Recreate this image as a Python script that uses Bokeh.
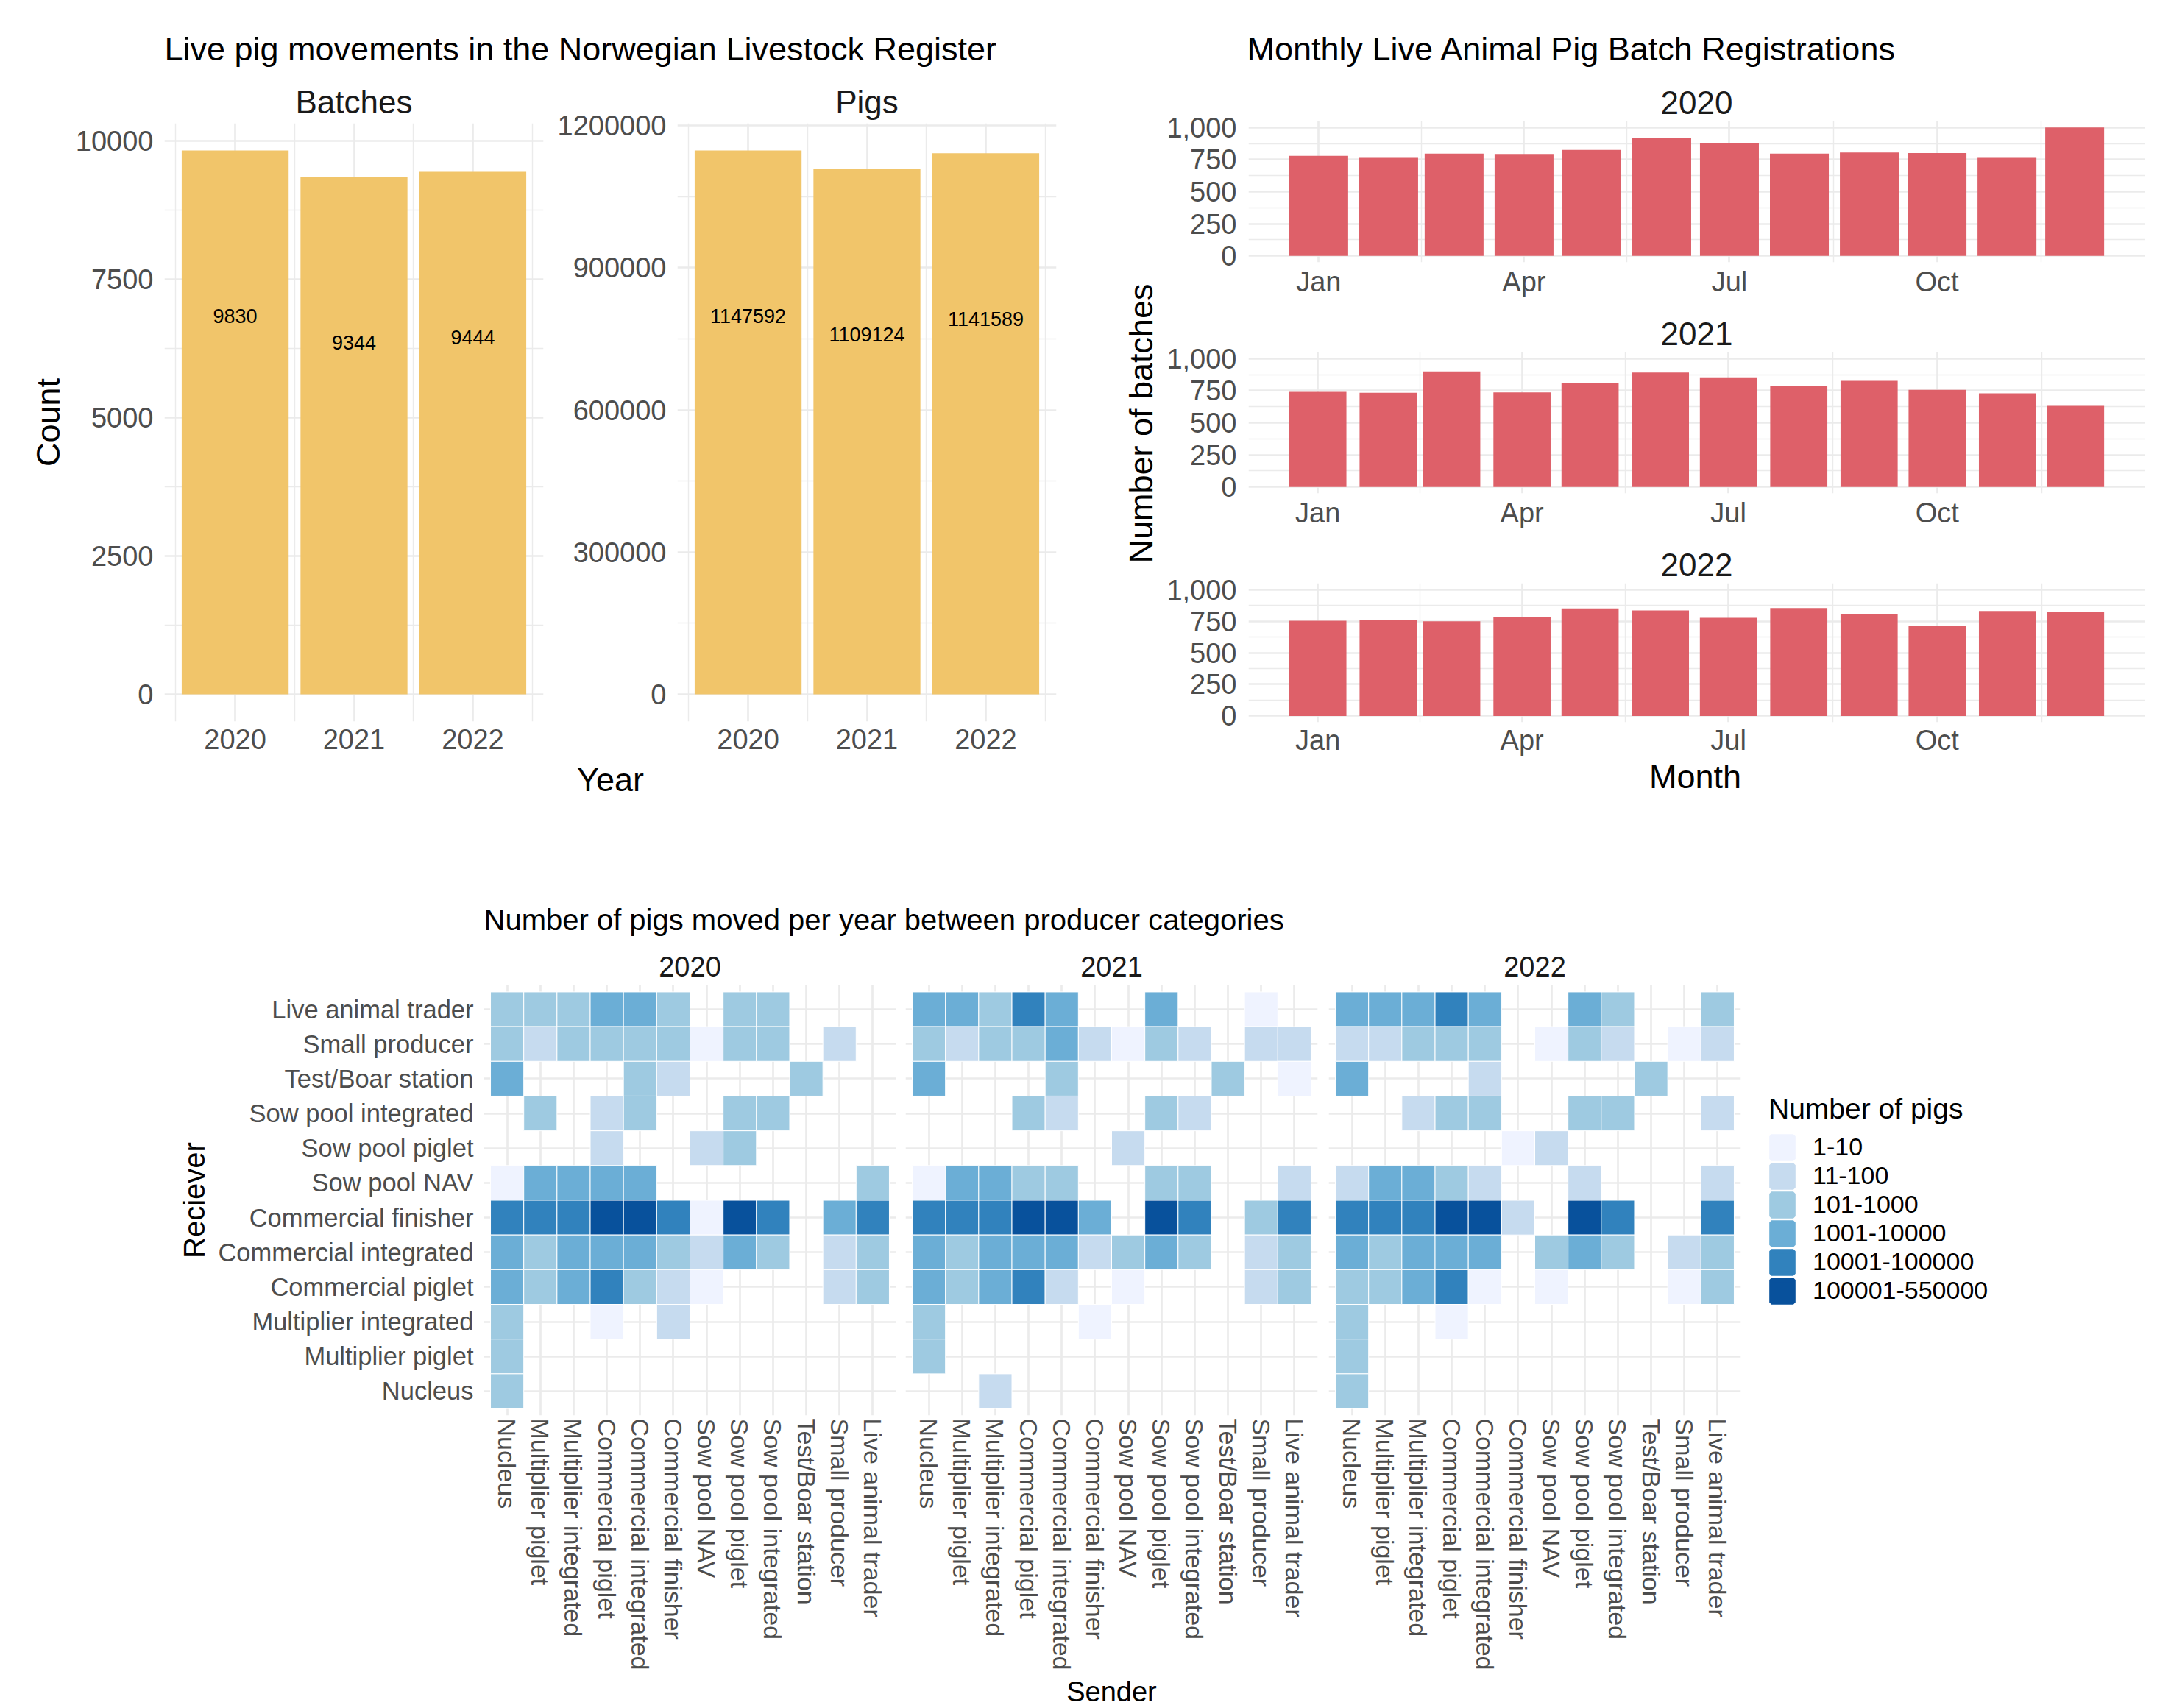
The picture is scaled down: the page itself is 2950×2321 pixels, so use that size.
import numpy as np
import pandas as pd
from bokeh.plotting import figure
from bokeh.layouts import row, column
from bokeh.models import (ColumnDataSource, Range1d, FactorRange, FixedTicker, LabelSet,
                          NumeralTickFormatter, BasicTickFormatter, DatetimeTickFormatter,
                          Legend, LegendItem)
from bokeh.transform import factor_cmap
from bokeh.core.properties import value
from bokeh.embed import file_html
from bokeh.resources import INLINE

# ---------------- data ----------------
YEARS = [2020, 2021, 2022]
BATCHES = [9830, 9344, 9444]
PIGS = [1147592, 1109124, 1141589]

MONTHLY_2020 = [780, 764, 797, 793, 825, 915, 878, 797, 805, 801, 764, 1000]
MONTHLY_2021 = [741, 733, 899, 737, 806, 891, 854, 789, 826, 757, 729, 632]
MONTHLY_2022 = [753, 761, 749, 785, 850, 834, 777, 854, 802, 709, 830, 826]

SENDERS = ["Nucleus", "Multiplier piglet", "Multiplier integrated", "Commercial piglet",
           "Commercial integrated", "Commercial finisher", "Sow pool NAV", "Sow pool piglet",
           "Sow pool integrated", "Test/Boar station", "Small producer", "Live animal trader"]
RECEIVERS = ["Live animal trader", "Small producer", "Test/Boar station", "Sow pool integrated",
             "Sow pool piglet", "Sow pool NAV", "Commercial finisher", "Commercial integrated",
             "Commercial piglet", "Multiplier integrated", "Multiplier piglet", "Nucleus"]
LEVELS = ["1-10", "11-100", "101-1000", "1001-10000", "10001-100000", "100001-550000"]

# class index (1..6, 0 = no movement); rows = RECEIVERS, columns = SENDERS
HEAT_2020 = [
    [3, 3, 3, 4, 4, 3, 0, 3, 3, 0, 0, 0],
    [3, 2, 3, 3, 3, 3, 1, 3, 3, 0, 2, 0],
    [4, 0, 0, 0, 3, 2, 0, 0, 0, 3, 0, 0],
    [0, 3, 0, 2, 3, 0, 0, 3, 3, 0, 0, 0],
    [0, 0, 0, 2, 0, 0, 2, 3, 0, 0, 0, 0],
    [1, 4, 4, 4, 4, 0, 0, 0, 0, 0, 0, 3],
    [5, 5, 5, 6, 6, 5, 1, 6, 5, 0, 4, 5],
    [4, 3, 4, 4, 4, 3, 2, 4, 3, 0, 2, 3],
    [4, 3, 4, 5, 3, 2, 1, 0, 0, 0, 2, 3],
    [3, 0, 0, 1, 0, 2, 0, 0, 0, 0, 0, 0],
    [3, 0, 0, 0, 0, 0, 0, 0, 0, 0, 0, 0],
    [3, 0, 0, 0, 0, 0, 0, 0, 0, 0, 0, 0],
]
HEAT_2021 = [
    [4, 4, 3, 5, 4, 0, 0, 4, 0, 0, 1, 0],
    [3, 2, 3, 3, 4, 2, 1, 3, 2, 0, 2, 2],
    [4, 0, 0, 0, 3, 0, 0, 0, 0, 3, 0, 1],
    [0, 0, 0, 3, 2, 0, 0, 3, 2, 0, 0, 0],
    [0, 0, 0, 0, 0, 0, 2, 0, 0, 0, 0, 0],
    [1, 4, 4, 3, 3, 0, 0, 3, 3, 0, 0, 2],
    [5, 5, 5, 6, 6, 4, 0, 6, 5, 0, 3, 5],
    [4, 3, 4, 4, 4, 2, 3, 4, 3, 0, 2, 3],
    [4, 3, 4, 5, 2, 0, 1, 0, 0, 0, 2, 3],
    [3, 0, 0, 0, 0, 1, 0, 0, 0, 0, 0, 0],
    [3, 0, 0, 0, 0, 0, 0, 0, 0, 0, 0, 0],
    [0, 0, 2, 0, 0, 0, 0, 0, 0, 0, 0, 0],
]
HEAT_2022 = [
    [4, 4, 4, 5, 4, 0, 0, 4, 3, 0, 0, 3],
    [2, 2, 3, 3, 3, 0, 1, 3, 2, 0, 1, 2],
    [4, 0, 0, 0, 2, 0, 0, 0, 0, 3, 0, 0],
    [0, 0, 2, 3, 3, 0, 0, 3, 3, 0, 0, 2],
    [0, 0, 0, 0, 0, 1, 2, 0, 0, 0, 0, 0],
    [2, 4, 4, 3, 2, 0, 0, 2, 0, 0, 0, 2],
    [5, 5, 5, 6, 6, 2, 0, 6, 5, 0, 0, 5],
    [4, 3, 4, 4, 4, 0, 3, 4, 3, 0, 2, 3],
    [3, 3, 4, 5, 1, 0, 1, 0, 0, 0, 1, 3],
    [3, 0, 0, 1, 0, 0, 0, 0, 0, 0, 0, 0],
    [3, 0, 0, 0, 0, 0, 0, 0, 0, 0, 0, 0],
    [3, 0, 0, 0, 0, 0, 0, 0, 0, 0, 0, 0],
]

# ---------------- style ----------------
FONT = "Liberation Sans"
GRID = "#EBEBEB"
TICK = "#4D4D4D"
STRIP = "#1A1A1A"
GOLD = "#F1C56A"
RED = "#DE6069"
BLUES = ["#eff3ff", "#c6dbef", "#9ecae1", "#6baed6", "#3182bd", "#08519c"]
MAJOR_W = 2.7
MINOR_W = 1.4


def new_fig(width, height, left, right, top, bottom, **kw):
    p = figure(width=width, height=height, toolbar_location=None, output_backend="svg",
               min_border_left=left, min_border_right=right, min_border_top=top,
               min_border_bottom=bottom, **kw)
    p.outline_line_color = None
    p.border_fill_color = "white"
    p.background_fill_color = "white"
    return p


def style_axes(p, size):
    for ax in p.axis:
        ax.axis_line_color = None
        ax.major_tick_line_color = None
        ax.minor_tick_line_color = None
        ax.major_tick_out = 0
        ax.major_tick_in = 0
        ax.minor_tick_out = 0
        ax.minor_tick_in = 0
        ax.major_label_text_font = FONT
        ax.major_label_text_font_size = size
        ax.major_label_text_color = TICK
        ax.axis_label_text_font = FONT
        ax.axis_label_text_font_style = "normal"
        ax.axis_label_text_color = "black"


def style_grid(p, minor=True):
    for g in p.grid:
        g.grid_line_color = GRID
        g.grid_line_width = MAJOR_W
        if minor:
            g.minor_grid_line_color = GRID
            g.minor_grid_line_width = MINOR_W


def style_title(p, text, size, standoff):
    p.title.text = text
    p.title.align = "center"
    p.title.text_font = FONT
    p.title.text_font_size = size
    p.title.text_font_style = "normal"
    p.title.text_color = STRIP
    p.title.standoff = standoff


def text_fig(width, height, left=0, right=0):
    fw = width - left - right
    p = figure(width=width, height=height, x_range=Range1d(0, fw), y_range=Range1d(0, height),
               toolbar_location=None, output_backend="svg", min_border=0,
               min_border_left=left, min_border_right=right,
               x_axis_location=None, y_axis_location=None)
    p.xgrid.visible = False
    p.ygrid.visible = False
    p.outline_line_color = None
    return p


def put_text(p, x, y_from_top, txt, size, align="left", baseline="middle", angle=0.0,
             color="black"):
    p.text(x=[x], y=[p.height - y_from_top], text=[txt], text_font=value(FONT),
           text_font_size=value(size), text_align=align, text_baseline=baseline,
           text_color=color, angle=angle)


# ---------------- yearly bars ----------------
def year_bar_fig(values, title, width, left, right, yticks, yminor, ylabel=None):
    lo, hi = min(YEARS) - 0.45, max(YEARS) + 0.45
    pad = 0.05 * (hi - lo)
    vmax = max(values)
    p = new_fig(width, 929, left, right, 63, 53,
                x_range=Range1d(lo - pad, hi + pad), y_range=Range1d(-0.05 * vmax, 1.05 * vmax))
    src = ColumnDataSource(dict(year=YEARS, n=values, lab=[str(v) for v in values]))
    p.vbar(x="year", top="n", bottom=0, width=0.9, source=src, fill_color=GOLD, line_color=None)
    p.add_layout(LabelSet(x="year", y="n", text="lab", source=src, y_offset=-225,
                          text_align="center", text_baseline="middle",
                          text_font=value(FONT), text_font_size=value("27px"),
                          text_color="black"))
    p.xaxis.ticker = FixedTicker(ticks=YEARS,
                                 minor_ticks=[y - 0.5 for y in YEARS] + [max(YEARS) + 0.5])
    p.yaxis.ticker = FixedTicker(ticks=yticks, minor_ticks=yminor)
    p.yaxis.formatter = BasicTickFormatter(use_scientific=False)
    p.xaxis.formatter = BasicTickFormatter(use_scientific=False)
    style_axes(p, "38px")
    p.xaxis.major_label_standoff = 10
    p.yaxis.major_label_standoff = 15
    if ylabel:
        p.yaxis.axis_label = ylabel
        p.yaxis.axis_label_text_font_size = "45px"
        p.yaxis.axis_label_standoff = 9
    style_grid(p)
    style_title(p, title, "44px", 9)
    return p


pA = year_bar_fig(BATCHES, "Batches", 740, 223, 2, [0, 2500, 5000, 7500, 10000],
                  [1250, 3750, 6250, 8750], ylabel="Count")
pB = year_bar_fig(PIGS, "Pigs", 735, 180, 40, [0, 300000, 600000, 900000, 1200000],
                  [150000, 450000, 750000, 1050000])

# ---------------- monthly bars ----------------
YMAX = max(MONTHLY_2020 + MONTHLY_2021 + MONTHLY_2022)
C_W, C_L, C_R = 1368, 112, 36


def to_ms(ts):
    return pd.Timestamp(ts).value / 1e6


def month_fig(year, counts, height, top, bottom, standoff):
    starts = pd.date_range(f"{year}-01-01", periods=12, freq="MS")
    ms = np.array([to_ms(t) for t in starts])
    w = 0.9 * np.diff(ms).min()
    lo, hi = ms[0] - w / 2, ms[-1] + w / 2
    pad = 0.05 * (hi - lo)
    p = new_fig(C_W, height, C_L, C_R, top, bottom, x_axis_type="datetime",
                x_range=Range1d(lo - pad, hi + pad),
                y_range=Range1d(-0.05 * YMAX, 1.05 * YMAX))
    src = ColumnDataSource(dict(month=list(starts), n=counts))
    p.vbar(x="month", top="n", bottom=0, width=w, source=src, fill_color=RED, line_color=None)
    quarters = list(ms[[0, 3, 6, 9]]) + [to_ms(f"{year + 1}-01-01")]
    minors = [(a + b) / 2 for a, b in zip(quarters[:-1], quarters[1:])]
    p.xaxis.ticker = FixedTicker(ticks=quarters[:-1], minor_ticks=minors)
    p.xaxis.formatter = DatetimeTickFormatter(days="%b", months="%b", years="%b")
    p.yaxis.ticker = FixedTicker(ticks=[0, 250, 500, 750, 1000], minor_ticks=[125, 375, 625, 875])
    p.yaxis.formatter = NumeralTickFormatter(format="0,0")
    style_axes(p, "38px")
    p.xaxis.major_label_standoff = standoff
    p.yaxis.major_label_standoff = 16
    style_grid(p)
    style_title(p, str(year), "44px", 19)
    return p


C1 = month_fig(2020, MONTHLY_2020, 312, 68, 52, 5)
C2 = month_fig(2021, MONTHLY_2021, 314, 70, 52, 5)
C3 = month_fig(2022, MONTHLY_2022, 307, 70, 45, 3)

# ---------------- heatmaps ----------------
H_TOP, H_BOTTOM, H_HEIGHT = 0, 352, 937


def heat_source(grid):
    send, recv, lvl = [], [], []
    for i, r in enumerate(RECEIVERS):
        for j, s in enumerate(SENDERS):
            k = grid[i][j]
            if k:
                send.append(s)
                recv.append(r)
                lvl.append(LEVELS[k - 1])
    return ColumnDataSource(dict(send=send, recv=recv, level=lvl))


def heat_fig(grid, width, left, right, show_y=False):
    p = new_fig(width, H_HEIGHT, left, right, H_TOP, H_BOTTOM,
                x_range=FactorRange(factors=SENDERS, range_padding=0.2,
                                    range_padding_units="absolute"),
                y_range=FactorRange(factors=RECEIVERS[::-1], range_padding=0.2,
                                    range_padding_units="absolute"))
    p.rect(x="send", y="recv", width=1, height=1, source=heat_source(grid),
           fill_color=factor_cmap("level", BLUES, LEVELS), line_color="white", line_width=1)
    style_axes(p, "34px")
    p.yaxis.major_label_text_font_size = "34.5px"
    p.xaxis.major_label_orientation = "vertical"
    p.xaxis.major_label_standoff = 4
    p.yaxis.major_label_standoff = 14
    style_grid(p, minor=False)
    if show_y:
        p.yaxis.axis_label = "Reciever"
        p.yaxis.axis_label_text_font_size = "40px"
        p.yaxis.axis_label_standoff = 7
    else:
        p.yaxis.visible = False
    return p


H1 = heat_fig(HEAT_2020, 1223, 657, 6, show_y=True)
H2 = heat_fig(HEAT_2021, 575, 7, 8)
H3 = heat_fig(HEAT_2022, 575, 7, 8)

LF = figure(width=577, height=H_HEIGHT, x_range=Range1d(0, 1), y_range=Range1d(0, 1),
            toolbar_location=None, output_backend="svg",
            min_border_left=0, min_border_right=0, min_border_top=H_TOP,
            min_border_bottom=H_BOTTOM, x_axis_location=None, y_axis_location=None)
LF.xgrid.visible = False
LF.ygrid.visible = False
LF.outline_line_color = None
items = []
for lvl, col in zip(LEVELS, BLUES):
    # legend-only renderer: nothing is drawn in the frame, only the legend swatch
    r = LF.rect(x=[float("nan")], y=[float("nan")], width=1, height=1,
                fill_color=col, line_color=col, line_width=6)
    items.append(LegendItem(label=lvl, renderers=[r]))
leg = Legend(items=items, location=(30, 150), title="Number of pigs",
             title_text_font=FONT, title_text_font_size="39px", title_text_font_style="normal",
             title_text_color="black", title_standoff=10,
             label_text_font=FONT, label_text_font_size="34px", label_text_color="black",
             label_standoff=23, glyph_width=37, glyph_height=38, label_height=38,
             spacing=0, padding=0, margin=0, border_line_alpha=0, background_fill_alpha=0)
LF.add_layout(leg)

# ---------------- text panels ----------------
tL = text_fig(1475, 104)
put_text(tL, 223, 66, "Live pig movements in the Norwegian Livestock Register", "45px")
fL = text_fig(1475, 67)
put_text(fL, 829, 0, "Year", "45px", "center", "top")

tR = text_fig(1475, 96)
put_text(tR, 219, 66, "Monthly Live Animal Pig Batch Registrations", "45px")
yl = text_fig(107, 933)
put_text(yl, 75, 479, "Number of batches", "45px", "center", "middle", np.pi / 2)
fR = text_fig(1475, 71)
put_text(fR, 828, 0, "Month", "45px", "center", "top")

tH = text_fig(2950, 238)
put_text(tH, 657, 149, "Number of pigs moved per year between producer categories", "40px")
for yr, xc in zip(YEARS, [937, 1510, 2085]):
    put_text(tH, xc, 213, str(yr), "38px", "center", color=STRIP)
fH = text_fig(2950, 46)
put_text(fH, 1510, 23, "Sender", "38px", "center")

top_left = column(tL, row(pA, pB), fL)
top_right = column(tR, row(yl, column(C1, C2, C3)), fR)
bottom = column(tH, row(H1, H2, H3, LF), fH)
page = column(row(top_left, top_right), bottom)

open("out.html", "w").write(file_html(page, INLINE))
